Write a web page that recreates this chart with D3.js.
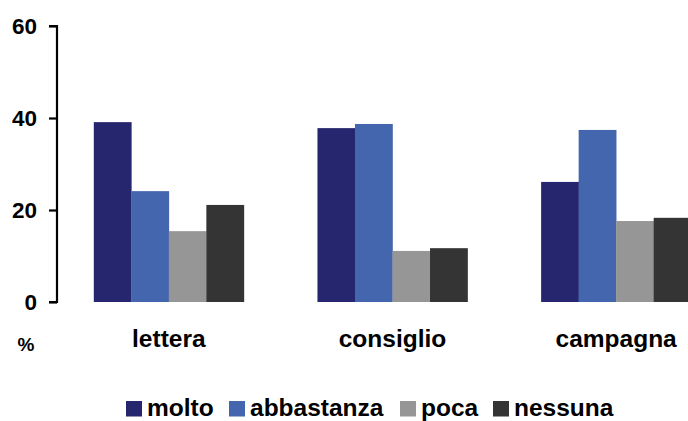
<!DOCTYPE html>
<html>
<head>
<meta charset="utf-8">
<script src="https://cdn.jsdelivr.net/npm/d3@7"></script>
<style>
  body { margin: 0; background: #fff; }
  text { font-family: "Liberation Sans", Arial, sans-serif; font-weight: bold; fill: #000; }
</style>
</head>
<body>
<svg id="chart"></svg>
<script>
const width = 688;
const height = 421;

// dati (%)
const categories = ['lettera', 'consiglio', 'campagna'];
const seriesNames = ['molto', 'abbastanza', 'poca', 'nessuna'];
const molto = [39.1, 37.8, 26.1];
const abbastanza = [24.1, 38.7, 37.4];
const poca = [15.4, 11.1, 17.6];
const nessuna = [21.1, 11.7, 18.3];
const yTicks = [0, 20, 40, 60];
const colors = ['#26266e', '#4466af', '#969696', '#333433'];

const seriesValues = [molto, abbastanza, poca, nessuna];

const svg = d3.select('#chart')
    .attr('width', width)
    .attr('height', height);

const y = d3.scaleLinear()
    .domain([0, 60])
    .range([302, 26]);

const x0 = d3.scaleBand()
    .domain(categories)
    .range([57, 728])
    .paddingInner(0.329)
    .paddingOuter(0.1645);

const x1 = d3.scaleBand()
    .domain(seriesNames)
    .range([0, x0.bandwidth()]);

// barre
const groups = svg.append('g')
    .selectAll('g')
    .data(categories)
    .enter().append('g')
    .attr('transform', d => `translate(${x0(d)},0)`);

groups.selectAll('rect')
    .data((c, i) => seriesNames.map((s, j) => ({ s: s, v: seriesValues[j][i], color: colors[j] })))
    .enter().append('rect')
    .attr('x', d => x1(d.s))
    .attr('y', d => y(d.v))
    .attr('width', x1.bandwidth() + 0.3)
    .attr('height', d => y(0) - y(d.v))
    .attr('fill', d => d.color);

// asse y
const yAxis = svg.append('g')
    .attr('transform', 'translate(57,0)')
    .call(d3.axisLeft(y).tickValues(yTicks).tickSize(8).tickPadding(12));
yAxis.select('.domain').attr('d', `M-8,${y(60)}H0V${y(0)}H-8`).attr('stroke', '#000').attr('stroke-width', 2.2).attr('fill', 'none');
yAxis.selectAll('.tick line').attr('stroke', '#000').attr('stroke-width', 2.2);
yAxis.selectAll('.tick text')
    .attr('fill', '#000')
    .style('font-size', '22.5px')
    .style('font-family', '"Liberation Sans", Arial, sans-serif')
    .style('font-weight', 'bold');

// etichette categorie
svg.append('g')
    .selectAll('text')
    .data(categories)
    .enter().append('text')
    .attr('x', d => x0(d) + x0.bandwidth() / 2)
    .attr('y', 347)
    .attr('text-anchor', 'middle')
    .style('font-size', '24.5px')
    .text(d => d);

svg.append('text')
    .attr('x', 26)
    .attr('y', 351)
    .attr('text-anchor', 'middle')
    .style('font-size', '19px')
    .text('%');

// legenda
const legendX = [126, 229, 400, 493];
const legend = svg.append('g')
    .selectAll('g')
    .data(seriesNames)
    .enter().append('g')
    .attr('transform', (d, i) => `translate(${legendX[i]},401)`);

legend.append('rect')
    .attr('width', 16)
    .attr('height', 15.5)
    .attr('fill', (d, i) => colors[i]);

legend.append('text')
    .attr('x', 21)
    .attr('y', 15)
    .style('font-size', '24.5px')
    .text(d => d);
</script>
</body>
</html>
